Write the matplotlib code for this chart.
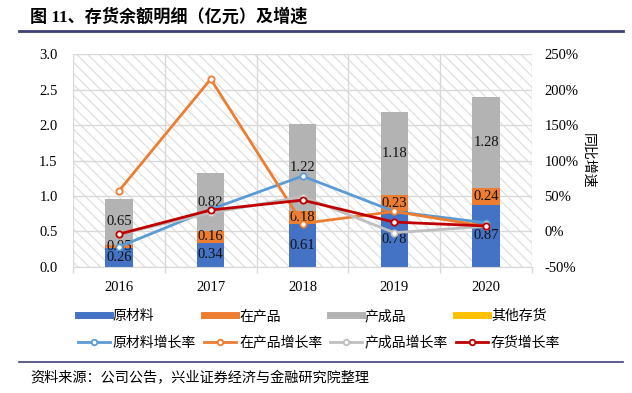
import matplotlib
matplotlib.use("Agg")
from matplotlib import pyplot as plt
from matplotlib.lines import Line2D
from matplotlib.patches import Rectangle
from matplotlib.ticker import FuncFormatter
import numpy as np

plt.rcParams['font.family'] = ['Liberation Serif', 'Noto Sans CJK SC']
plt.rcParams['hatch.linewidth'] = 0.8

years = ['2016', '2017', '2018', '2019', '2020']
raw = [0.26, 0.34, 0.61, 0.78, 0.87]
wip = [0.05, 0.16, 0.18, 0.23, 0.24]
finished = [0.65, 0.82, 1.22, 1.18, 1.28]
other = [0.0, 0.0, 0.0, 0.0, 0.0]

# growth rates, %
raw_g = [-22, 31, 78, 28, 12]
wip_g = [57, 215, 11, 28, 7]
fin_g = [-4, 26, 49, -2, 7]
total_g = [-4, 30, 44, 13, 7.5]

c_raw, c_wip, c_fin, c_oth = '#4472C4', '#ED7D31', '#B3B3B3', '#FFC000'
l_raw, l_wip, l_fin, l_tot = '#5B9BD5', '#ED7D31', '#BFBFBF', '#C00000'
grid_c = '#D9D9D9'
num_font = {'family': 'Liberation Serif'}

fig = plt.figure(figsize=(6.32, 3.93), dpi=100)
ax = fig.add_axes([0.1155, 0.3214, 0.7263, 0.5404])

# hatched background
ax.add_patch(Rectangle((0, 0), 1, 1, transform=ax.transAxes, facecolor='white',
                       edgecolor='#DCDCDC', hatch='\\\\\\', lw=0.5, zorder=0))

x = np.arange(len(years))
w = 0.3
b1 = ax.bar(x, raw, w, color=c_raw, zorder=2)
b2 = ax.bar(x, wip, w, bottom=raw, color=c_wip, zorder=2)
bot3 = np.array(raw) + np.array(wip)
b3 = ax.bar(x, finished, w, bottom=bot3, color=c_fin, zorder=2)
b4 = ax.bar(x, other, w, bottom=bot3 + np.array(finished), color=c_oth, zorder=2)

for bars, vals in [(b1, raw), (b2, wip), (b3, finished)]:
    ax.bar_label(bars, labels=['%.2f' % v for v in vals], label_type='center',
                 fontsize=10.5, color='#111111', zorder=3, **num_font)

ax.set_xlim(-0.5, 4.5)
ax.set_ylim(0, 3.0)
ax.set_yticks(np.arange(0, 3.01, 0.5))
ax.yaxis.set_major_formatter(FuncFormatter(lambda v, p: '%.1f' % v))
ax.set_xticks(x)
ax.set_xticklabels(years)
ax.set_xticks(np.arange(-0.5, 4.6, 1), minor=True)
ax.tick_params(axis='x', which='major', length=0, pad=10, labelsize=10.5)
ax.tick_params(axis='x', which='minor', length=4, color=grid_c, width=1)
ax.tick_params(axis='y', length=0, pad=11, labelsize=10.5)
ax.grid(axis='y', color=grid_c, lw=1, zorder=1)
ax.grid(axis='x', which='minor', color=grid_c, lw=1, zorder=1)
for s in ['top', 'right', 'left']:
    ax.spines[s].set_visible(False)
ax.spines['bottom'].set_color(grid_c)
ax.set_axisbelow(True)

ax2 = ax.twinx()
mk = dict(marker='o', markersize=4.5, markerfacecolor='white', markeredgewidth=1.3, lw=2)
ax2.plot(x, raw_g, color=l_raw, **mk)
ax2.plot(x, wip_g, color=l_wip, **mk)
ax2.plot(x, fin_g, color=l_fin, **mk)
ax2.plot(x, total_g, color=l_tot, **mk)
ax2.set_ylim(-50, 250)
ax2.set_yticks(np.arange(-50, 251, 50))
ax2.yaxis.set_major_formatter(FuncFormatter(lambda v, p: '%d%%' % v))
ax2.tick_params(axis='y', length=0, pad=9, labelsize=10.5)
for s in ax2.spines.values():
    s.set_visible(False)
ax2.set_ylabel('同比增速', rotation=270, fontsize=10, labelpad=12,
               family='Noto Sans CJK SC')

# legend
mk_leg = dict(mk, markersize=4)
cols = [
    (Line2D([], [], color=c_raw, lw=5), '原材料', Line2D([], [], color=l_raw, **mk_leg), '原材料增长率', 0.1234),
    (Line2D([], [], color=c_wip, lw=5), '在产品', Line2D([], [], color=l_wip, **mk_leg), '在产品增长率', 0.3228),
    (Line2D([], [], color=c_fin, lw=5), '产成品', Line2D([], [], color=l_fin, **mk_leg), '产成品增长率', 0.5222),
    (Line2D([], [], color=c_oth, lw=5), '其他存货', Line2D([], [], color=l_tot, **mk_leg), '存货增长率', 0.7215),
]
for h1, t1, h2, t2, lx in cols:
    fig.legend([h1, h2], [t1, t2], loc='upper left', bbox_to_anchor=(lx, 0.214),
               frameon=False, handlelength=2.3, handletextpad=0.22, labelspacing=0.9,
               prop={'family': 'Noto Sans CJK SC', 'size': 10}, borderaxespad=0,
               borderpad=0)

# title, rules, source
fig.text(0.0475, 0.9567, '图 11、存货余额明细（亿元）及增速', fontsize=12.3, fontweight='bold',
         va='center', ha='left')
fig.add_artist(Line2D([0.030, 0.985], [0.9219, 0.9219], color='#3F4177', lw=2))
fig.add_artist(Line2D([0.030, 0.985], [0.0796, 0.0796], color='#3F4177', lw=1.2))
fig.text(0.0475, 0.0374, '资料来源：公司公告，兴业证券经济与金融研究院整理', fontsize=10.2,
         va='center', ha='left', family='Noto Sans CJK SC')

fig.savefig('out.png', dpi=100)
